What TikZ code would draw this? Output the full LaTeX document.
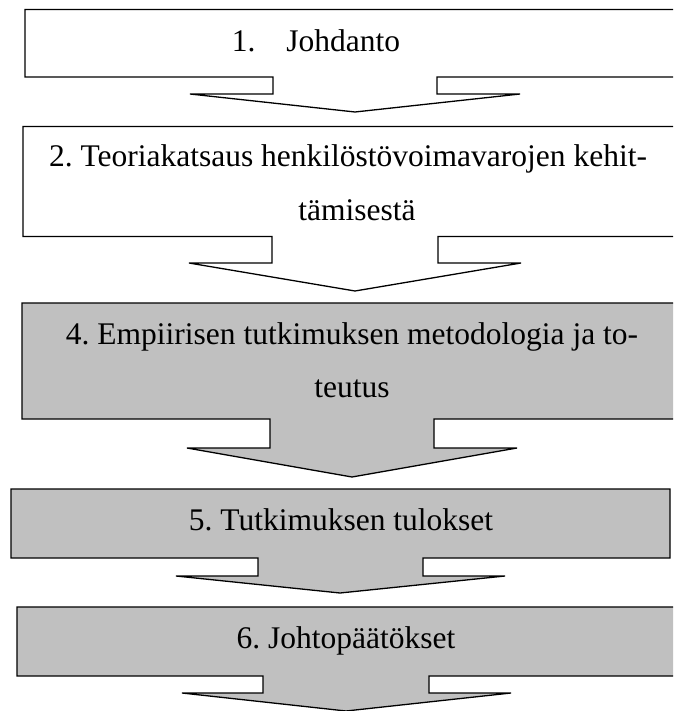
\documentclass[tikz,border=0pt]{standalone}
\usepackage{fontspec}
\setmainfont{Liberation Serif}
\frenchspacing
\begin{document}
\begin{tikzpicture}[x=1pt,y=-1pt,
  shapeline/.style={draw=black,line width=1.3pt,line join=miter},
  whitebox/.style={shapeline,fill=white},
  graybox/.style={shapeline,fill=boxgray},
  label/.style={anchor=base,inner sep=0pt,font=\fontsize{31.5}{53}\selectfont}]
\definecolor{boxgray}{HTML}{C0C0C0}
\useasboundingbox (0,0) rectangle (673,711);
\clip (0,0) rectangle (673,711);
% 1
\draw[whitebox] (25,9.5) -- (685,9.5) -- (685,77) -- (437,77) -- (437,94) -- (520,94)
  -- (355,112) -- (190,94) -- (273,94) -- (273,77) -- (25,77) -- cycle;
% 2
\draw[whitebox] (23,126.5) -- (687,126.5) -- (687,236.5) -- (438,236.5) -- (438,263) -- (521,263)
  -- (355,291) -- (189,263) -- (272,263) -- (272,236.5) -- (23,236.5) -- cycle;
% 4
\draw[graybox] (22,303) -- (682,303) -- (682,419) -- (434,419) -- (434,448) -- (517,448)
  -- (352,477) -- (187,448) -- (270,448) -- (270,419) -- (22,419) -- cycle;
% 5
\draw[graybox] (11,489) -- (670,489) -- (670,558) -- (423,558) -- (423,576) -- (505,576)
  -- (340,593) -- (176,576) -- (258,576) -- (258,558) -- (11,558) -- cycle;
% 6
\draw[graybox] (17,607) -- (676,607) -- (676,676) -- (429,676) -- (429,693) -- (511,693)
  -- (346,711) -- (182,693) -- (263,693) -- (263,676) -- (17,676) -- cycle;
% texts
\node[label] (t1) at (316,52) {1.\hspace{31pt}Johdanto};
\node[label] (t2a) at (348,167) {2. Teoriakatsaus henkilöstövoimavarojen kehit-};
\node[label] (t2b) at (357,220) {tämisestä};
\node[label] (t4a) at (352,344) {4. Empiirisen tutkimuksen metodologia ja to-};
\node[label] (t4b) at (352,397) {teutus};
\node[label] (t5) at (341,530) {5. Tutkimuksen tulokset};
\node[label] (t6) at (346,648) {6. Johtopäätökset};
\end{tikzpicture}
\end{document}
